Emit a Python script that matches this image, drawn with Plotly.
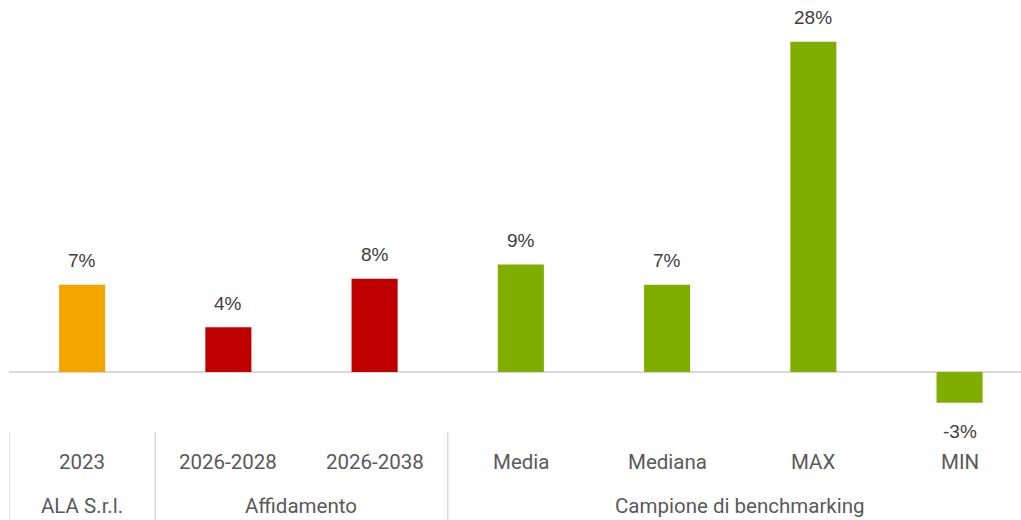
import plotly.graph_objects as go

categories = ["2023", "2026-2028", "2026-2038", "Media", "Mediana", "MAX", "MIN"]
values = [7.4, 3.8, 7.9, 9.1, 7.4, 28.0, -2.6]
labels = ["7%", "4%", "8%", "9%", "7%", "28%", "-3%"]
colors = ["#F4A500", "#C00000", "#C00000", "#7FAE00", "#7FAE00", "#7FAE00", "#7FAE00"]
groups = ["ALA S.r.l.", "Affidamento", "Campione di benchmarking"]
group_spans = [(0, 0), (1, 2), (3, 6)]

W, H = 1021, 520
fig = go.Figure()
x = list(range(len(categories)))
fig.add_trace(go.Bar(x=x, y=values, marker=dict(color=colors, line=dict(width=0)),
                     width=0.315, hoverinfo="skip"))

ann = []
for i, (v, t) in enumerate(zip(values, labels)):
    ann.append(dict(x=i, y=v, xref="x", yref="y", text=t, showarrow=False,
                    yshift=24 if v >= 0 else -29,
                    font=dict(family="Liberation Sans", size=19, color="#404040")))
for i, c in enumerate(categories):
    ann.append(dict(x=i, y=0, xref="x", yref="paper", text=c, showarrow=False,
                    yanchor="middle", yshift=-32,
                    font=dict(family="Roboto", size=20.5, color="#595959")))
shapes = []
for g, (a, b) in zip(groups, group_spans):
    ann.append(dict(x=(a + b) / 2, y=0, xref="x", yref="paper", text=g, showarrow=False,
                    yanchor="middle", yshift=-76,
                    font=dict(family="Roboto", size=20.5, color="#595959")))
    shapes.append(dict(type="line", xref="x", yref="paper", x0=a - 0.5, x1=a - 0.5,
                       y0=-2 / 430, y1=-92 / 430, line=dict(color="#D9D9D9", width=1.5)))

fig.update_layout(
    width=W, height=H, margin=dict(l=9, r=0, t=0, b=90),
    plot_bgcolor="white", paper_bgcolor="white", showlegend=False,
    annotations=ann, shapes=shapes,
    xaxis=dict(range=[-0.5, 6.42], showticklabels=False, showgrid=False, zeroline=False,
               fixedrange=True),
    yaxis=dict(range=[-4.92, 31.53], showticklabels=False, showgrid=False, zeroline=True,
               zerolinecolor="#D9D9D9", zerolinewidth=1.5, fixedrange=True),
)
fig.write_html("out.html", config={"displayModeBar": False})
